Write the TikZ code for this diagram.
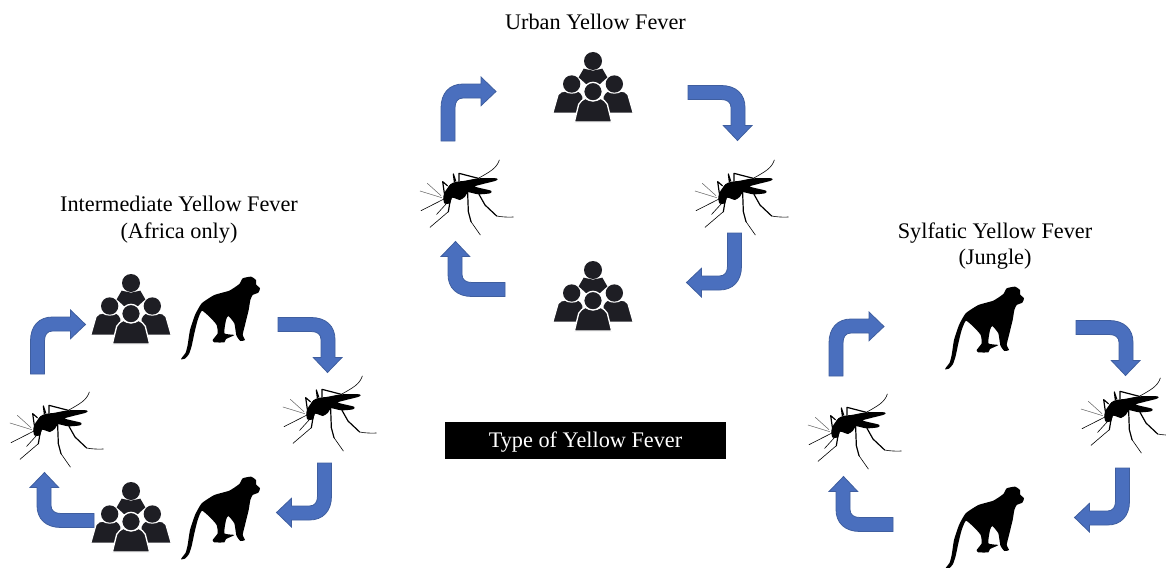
\documentclass[tikz,border=0pt]{standalone}
\usepackage{fontspec}
\setmainfont{Liberation Serif}
\definecolor{arrowblue}{HTML}{4A6FBE}
\definecolor{arrowedge}{HTML}{3F5E9F}
\definecolor{peopleink}{HTML}{1E1E24}
\tikzset{
  label text/.style={font=\fontsize{16.7}{20}\selectfont,align=center,text=black},
  leg/.style={draw=black,line width=.9pt,line cap=round,line join=round},
  thin leg/.style={draw=black,line width=.45pt,line cap=round,line join=round},
  feeler/.style={draw=black!60,line width=.4pt,line cap=round},
  bent/.pic={
    \path[fill=arrowblue,draw=arrowedge,line width=.6pt,line join=miter]
      (-27.5,32) -- (-13.5,32) -- (-13.5,-1) .. controls (-13.5,-7) and (-11,-11) .. (-5.5,-11)
      -- (12.5,-11) -- (12.5,-3.3) -- (27.5,-17.5) -- (12.5,-32) -- (12.5,-25)
      -- (-5.5,-25) .. controls (-19,-25) and (-27.5,-16) .. (-27.5,-1) -- cycle;
  },
  mosquito/.pic={
    \begin{scope}[x=.25pt,y=-.25pt]
      \fill[black] plot[smooth cycle,tension=.4] coordinates {(85,125) (90,110) (105,90) (125,80) (145,78) (190,70) (245,70) (243,77) (200,88) (180,95) (228,107) (225,115) (190,118) (160,112) (150,125) (135,135) (112,128) (105,145) (88,145)};
      \fill[black] (125,105) ellipse [x radius=27,y radius=24];
      \fill[black] (97,132) circle (12);
      \path[leg] (88,115) -- (83,80) -- (97,92);
      \path[leg] (118,80) -- (115,57) -- (122,78);
      \path[leg] (132,78) -- (132,55) -- (190,70);
      \path[thin leg] (190,70) .. controls (225,50) and (245,40) .. (253,15);
      \path[leg] (158,115) -- (160,170) -- (168,200);
      \path[thin leg] (168,200) -- (196,240);
      \path[leg] (192,118) -- (210,150) -- (245,183);
      \path[thin leg] (245,183) .. controls (260,186) and (280,187) .. (295,186);
      \path[leg] (105,140) -- (100,170);
      \path[thin leg] (100,170) -- (45,217);
      \path[thin leg] (95,145) -- (65,178);
      \path[thin leg] (85,133) -- (18,167);
      \path[feeler] (80,128) -- (15,108);
      \path[feeler] (78,122) -- (37,85);
    \end{scope}
  },
  monkey/.pic={
    \begin{scope}[x=.25pt,y=-.25pt]
      \fill[black] plot[smooth cycle,tension=.3] coordinates {(30,268) (34,261) (44,248) (50,225) (57,180) (72,135) (92,100) (130,75) (175,62) (205,42) (215,25) (240,20) (255,30) (255,43) (267,55) (262,68) (245,75) (238,90) (233,120) (222,165) (215,195) (222,210) (208,213) (196,196) (190,160) (172,138) (165,150) (160,190) (190,195) (165,207) (160,217) (130,217) (125,210) (140,190) (137,165) (120,145) (93,122) (80,150) (70,190) (62,228) (54,252) (42,266)};
    \end{scope}
  },
  people/.pic={
    \begin{scope}[x=.25pt,y=-.25pt]
      \fill[peopleink] (0,27) circle (27);
      \fill[peopleink] (-43,76) -- (-28,50) -- (0,56) -- (28,50) -- (43,76) -- (0,115) -- cycle;
      \begin{scope}[draw=white,line width=1pt]
        \foreach \s in {-1,1}{
          \filldraw[fill=peopleink] (\s*121,184) -- (\s*105,128) .. controls (\s*100,120) and (\s*92,117) .. (\s*84,117) .. controls (\s*75,125) and (\s*52,125) .. (\s*44,117) .. controls (\s*38,120) and (\s*32,126) .. (\s*30,133) -- (\s*30,184) -- cycle;
          \fill[peopleink] (\s*64,96) circle (26);
        }
        \filldraw[fill=peopleink] (-56,210) -- (-43,157) .. controls (-38,149) and (-31,142) .. (-23,139) .. controls (-14,148) and (14,148) .. (23,139) .. controls (31,142) and (38,149) .. (43,157) -- (56,210) -- cycle;
        \filldraw[fill=peopleink] (0,119) circle (28);
      \end{scope}
    \end{scope}
  },
}
\begin{document}
\begin{tikzpicture}[x=.75pt,y=-.75pt]
\useasboundingbox (0,0) rectangle (1166,567);
% Urban
\node[label text] (urbanlabel) at (595.5,22) {Urban Yellow Fever};
\pic at (593,52) {people};
\pic at (593,261) {people};
\pic at (415,155) {mosquito};
\pic at (690,155) {mosquito};
\pic at (468.5,109) {bent};
\pic[rotate=-90] at (720,113) {bent};
\pic[rotate=180] at (714,265) {bent};
\pic[rotate=90] at (473,269) {bent};
% Intermediate
\node[label text] (intermediatelabel) at (179,220) {Intermediate Yellow Fever\\(Africa only)};
\pic at (131,274) {people};
\pic at (131,482) {people};
\pic at (171,270) {monkey};
\pic at (171,470) {monkey};
\pic at (5,387) {mosquito};
\pic at (278,371) {mosquito};
\pic at (58,342) {bent};
\pic[rotate=-90] at (310,345) {bent};
\pic[rotate=180] at (304,495) {bent};
\pic[rotate=90] at (62,500) {bent};
% Sylvatic
\node[label text] (sylvaticlabel) at (995,246) {Sylfatic Yellow Fever\\(Jungle)};
\pic at (935,280) {monkey};
\pic at (935,480) {monkey};
\pic at (803,389) {mosquito};
\pic at (1076,373) {mosquito};
\pic at (856.5,344) {bent};
\pic[rotate=-90] at (1108,348) {bent};
\pic[rotate=180] at (1102,500) {bent};
\pic[rotate=90] at (861,504) {bent};
% Legend
\node[fill=black,minimum width=210.75pt,minimum height=27.75pt,inner sep=0pt] (typebox) at (585.5,440.5) {};
\node[label text,text=white,inner sep=0pt] (typelabel) at (585.5,442.5) {Type of Yellow Fever};
\end{tikzpicture}
\end{document}
